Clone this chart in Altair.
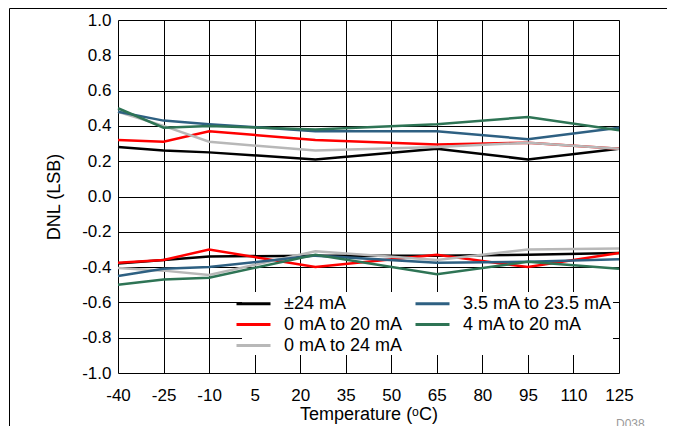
import altair as alt
import pandas as pd

temps = [-40, -25, -10, 25, 65, 95, 125]

series_names = ["±24 mA", "0 mA to 20 mA", "0 mA to 24 mA", "3.5 mA to 23.5 mA", "4 mA to 20 mA"]
series_colors = ["#000000", "#ff0000", "#b8b8b8", "#2e6082", "#2e7455"]

upper = {
    "±24 mA":            [0.28, 0.26, 0.25, 0.21, 0.27, 0.21, 0.27],
    "0 mA to 20 mA":     [0.32, 0.31, 0.37, 0.32, 0.295, 0.305, 0.27],
    "0 mA to 24 mA":     [0.48, 0.40, 0.31, 0.26, 0.28, 0.305, 0.27],
    "3.5 mA to 23.5 mA": [0.48, 0.43, 0.41, 0.37, 0.37, 0.325, 0.39],
    "4 mA to 20 mA":     [0.50, 0.39, 0.40, 0.38, 0.41, 0.45, 0.375],
}
lower = {
    "±24 mA":            [-0.38, -0.36, -0.34, -0.335, -0.335, -0.33, -0.32],
    "0 mA to 20 mA":     [-0.375, -0.36, -0.30, -0.40, -0.33, -0.40, -0.32],
    "0 mA to 24 mA":     [-0.405, -0.42, -0.445, -0.31, -0.36, -0.30, -0.295],
    "3.5 mA to 23.5 mA": [-0.45, -0.41, -0.40, -0.335, -0.375, -0.37, -0.355],
    "4 mA to 20 mA":     [-0.50, -0.47, -0.46, -0.33, -0.44, -0.37, -0.41],
}

x_ticks = [-40, -25, -10, 5, 20, 35, 50, 65, 80, 95, 110, 125]
y_ticks = [-1.0, -0.8, -0.6, -0.4, -0.2, 0.0, 0.2, 0.4, 0.6, 0.8, 1.0]

rows = []
for name in series_names:
    for branch, src in (("upper", upper), ("lower", lower)):
        for t, v in zip(temps, src[name]):
            rows.append({"temp": t, "dnl": v, "series": name, "branch": branch})
df = pd.DataFrame(rows)

FONT = "Liberation Sans"

lines = alt.Chart(df).mark_line(strokeWidth=2.5).encode(
    x=alt.X("temp:Q",
            scale=alt.Scale(domain=[-40, 125], nice=False, zero=False),
            axis=alt.Axis(values=x_ticks, title="Temperature (ᵒC)",
                          labelExpr="datum.value < 0 ? '-' + format(-datum.value, 'd') : format(datum.value, 'd')",
                          grid=True, gridColor="#000000", gridWidth=1,
                          ticks=False, domain=False, labelFlush=False, labelOverlap=False,
                          labelFontSize=17, labelFont=FONT, labelColor="#000000",
                          labelPadding=14, titleFontSize=18, titleFont=FONT,
                          titleFontWeight="normal", titleColor="#000000", titlePadding=2)),
    y=alt.Y("dnl:Q",
            scale=alt.Scale(domain=[-1.0, 1.0], nice=False, zero=False),
            axis=alt.Axis(values=y_ticks, title="DNL (LSB)",
                          labelExpr="datum.value < -0.01 ? '-' + format(-datum.value, '.1f') : format(abs(datum.value), '.1f')",
                          grid=True, gridColor="#000000", gridWidth=1,
                          ticks=False, domain=False, labelFlush=False, labelOverlap=False,
                          labelFontSize=17, labelFont=FONT, labelColor="#000000",
                          labelPadding=7, titleFontSize=18, titleFont=FONT,
                          titleFontWeight="normal", titleColor="#000000", titlePadding=18)),
    color=alt.Color("series:N",
                    scale=alt.Scale(domain=series_names, range=series_colors),
                    legend=alt.Legend(title=None, orient="none", legendX=124, legendY=272,
                                      columns=2, fillColor="white", padding=0,
                                      symbolType="M-1.7,0H1.7", symbolSize=400, symbolStrokeWidth=3,
                                      labelFontSize=18, labelFont=FONT, labelColor="#000000",
                                      labelOffset=19, columnPadding=5, rowPadding=0,
                                      labelLimit=400)),
    detail="branch:N",
    order=alt.Order("temp:Q"),
)

one = pd.DataFrame({"a": [0]})
frame_top = alt.Chart(one).mark_rule(color="#000000", strokeWidth=1).encode(
    x=alt.value(-108.5), x2=alt.value(560), y=alt.value(-11.5))
frame_left = alt.Chart(one).mark_rule(color="#000000", strokeWidth=1).encode(
    x=alt.value(-108.5), y=alt.value(-11.5), y2=alt.value(420))
tag = alt.Chart(one).mark_text(text="D038", font=FONT, fontSize=12, color="#999999",
                               align="left", baseline="top").encode(
    x=alt.value(498), y=alt.value(399))

chart = alt.layer(lines, frame_top, frame_left, tag).properties(
    width=501, height=353,
    autosize=alt.AutoSizeParams(type="none"),
    padding={"left": 110, "top": 12, "right": 48, "bottom": 53},
).configure_view(stroke="#000000", strokeWidth=3).configure(background="white")

chart.save("out.html", embed_options={"renderer": "svg", "actions": False})
